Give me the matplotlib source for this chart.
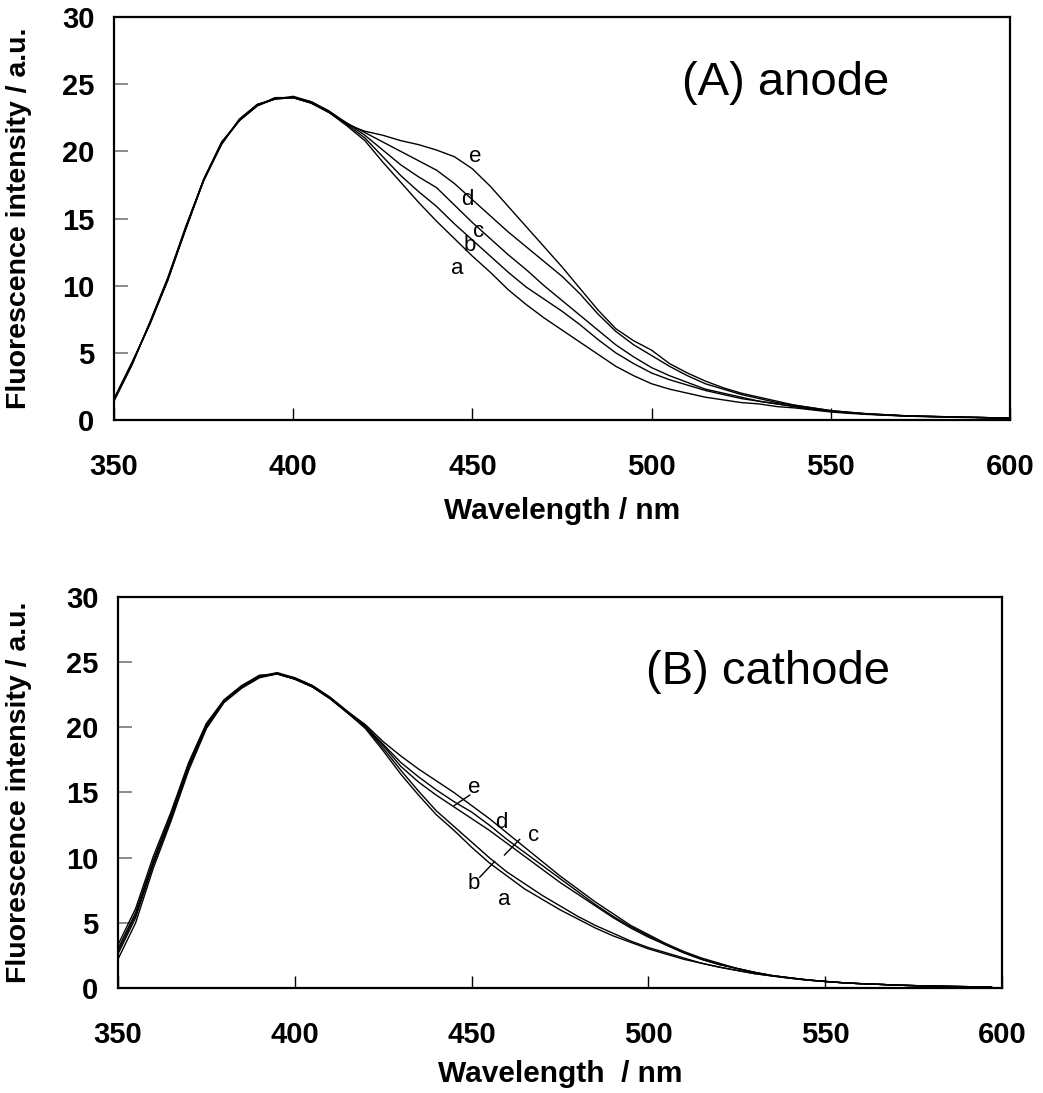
#!/usr/bin/env python3
import matplotlib
matplotlib.use("Agg")
import matplotlib.pyplot as plt
import numpy as np

# wavelength grid (nm) used for the read-off values
wl = [350, 355, 360, 365, 370, 375, 380, 385, 390, 395, 400, 405, 410, 415, 420,
      425, 430, 435, 440, 445, 450, 455, 460, 465, 470, 475, 480, 485, 490, 495,
      500, 505, 510, 515, 520, 525, 530, 535, 540, 545, 550, 555, 560, 565, 570,
      575, 580, 585, 590, 595, 600]

# (A) anode, curves a..e
anode_a = [1.5, 4.2, 7.2, 10.5, 14.3, 17.9, 20.6, 22.3, 23.4, 23.9, 24.0, 23.6, 22.9, 21.9, 20.8,
           19.2, 17.7, 16.2, 14.8, 13.5, 12.2, 11.0, 9.7, 8.6, 7.6, 6.7, 5.8, 4.9, 4.0, 3.3,
           2.7, 2.3, 2.0, 1.7, 1.5, 1.3, 1.2, 1.0, 0.9, 0.75, 0.6, 0.5, 0.42, 0.36, 0.3,
           0.26, 0.23, 0.2, 0.18, 0.15, 0.13]
anode_b = [1.6, 4.3, 7.1, 10.4, 14.2, 17.8, 20.5, 22.4, 23.5, 23.9, 24.1, 23.7, 23.0, 22.0, 21.0,
           19.6, 18.2, 17.0, 15.9, 14.6, 13.4, 12.2, 11.0, 9.9, 9.0, 8.1, 7.1, 6.0, 5.0, 4.2,
           3.5, 3.0, 2.6, 2.2, 1.9, 1.6, 1.4, 1.2, 1.0, 0.8, 0.65, 0.55, 0.45, 0.38, 0.32,
           0.28, 0.25, 0.22, 0.2, 0.17, 0.15]
anode_c = [1.4, 4.1, 7.3, 10.6, 14.4, 17.9, 20.7, 22.3, 23.4, 24.0, 24.0, 23.6, 22.9, 22.1, 21.2,
           20.1, 19.0, 18.1, 17.3, 16.0, 14.7, 13.5, 12.3, 11.2, 10.0, 8.9, 7.8, 6.7, 5.6, 4.7,
           3.9, 3.3, 2.8, 2.3, 2.0, 1.7, 1.4, 1.2, 1.0, 0.8, 0.65, 0.55, 0.45, 0.38, 0.32,
           0.28, 0.25, 0.22, 0.2, 0.17, 0.15]
anode_d = [1.5, 4.2, 7.2, 10.4, 14.3, 17.8, 20.6, 22.4, 23.5, 23.9, 24.0, 23.7, 23.0, 22.1, 21.4,
           20.7, 20.0, 19.3, 18.6, 17.6, 16.4, 15.2, 14.0, 12.9, 11.8, 10.7, 9.4, 7.9, 6.6, 5.6,
           4.8, 4.0, 3.3, 2.7, 2.3, 1.9, 1.6, 1.3, 1.1, 0.9, 0.7, 0.58, 0.47, 0.4, 0.33,
           0.29, 0.26, 0.23, 0.2, 0.17, 0.15]
anode_e = [1.5, 4.1, 7.2, 10.5, 14.2, 17.9, 20.6, 22.3, 23.4, 24.0, 24.0, 23.6, 22.9, 22.0, 21.5,
           21.2, 20.8, 20.5, 20.1, 19.6, 18.7, 17.4, 15.9, 14.4, 12.9, 11.4, 9.8, 8.2, 6.8, 5.9,
           5.2, 4.2, 3.5, 2.9, 2.4, 2.0, 1.7, 1.4, 1.1, 0.9, 0.7, 0.58, 0.47, 0.4, 0.33,
           0.29, 0.26, 0.23, 0.2, 0.17, 0.15]

# (B) cathode, curves a..e (end at ~597 nm)
wl_b = wl[:-1] + [597]
cathode_a = [2.2, 5.0, 9.2, 12.8, 16.7, 19.9, 21.9, 23.0, 23.8, 24.1, 23.7, 23.1, 22.2, 21.1, 19.9,
             18.2, 16.4, 14.8, 13.3, 12.1, 10.8, 9.6, 8.6, 7.6, 6.8, 6.0, 5.3, 4.6, 4.0, 3.5,
             3.0, 2.6, 2.2, 1.9, 1.6, 1.35, 1.1, 0.92, 0.75, 0.6, 0.5, 0.4, 0.33, 0.28, 0.22,
             0.18, 0.15, 0.12, 0.1, 0.08, 0.07]
cathode_b = [2.6, 5.4, 9.5, 13.0, 16.9, 20.0, 22.0, 23.1, 23.9, 24.1, 23.7, 23.1, 22.2, 21.1, 20.0,
             18.4, 16.7, 15.1, 13.6, 12.4, 11.2, 10.0, 8.9, 8.0, 7.1, 6.3, 5.5, 4.8, 4.2, 3.6,
             3.1, 2.7, 2.3, 1.9, 1.6, 1.35, 1.1, 0.92, 0.75, 0.6, 0.5, 0.4, 0.33, 0.28, 0.22,
             0.18, 0.15, 0.12, 0.1, 0.08, 0.07]
cathode_c = [3.0, 5.8, 9.8, 13.3, 17.2, 20.2, 22.1, 23.2, 23.9, 24.1, 23.7, 23.1, 22.2, 21.1, 20.0,
             18.6, 17.0, 15.8, 14.8, 13.9, 13.0, 12.1, 11.1, 10.1, 9.1, 8.1, 7.2, 6.3, 5.4, 4.6,
             3.9, 3.3, 2.7, 2.2, 1.8, 1.5, 1.2, 0.95, 0.78, 0.62, 0.5, 0.4, 0.33, 0.28, 0.22,
             0.18, 0.15, 0.12, 0.1, 0.08, 0.07]
cathode_d = [3.3, 6.1, 10.1, 13.5, 17.3, 20.3, 22.1, 23.2, 24.0, 24.1, 23.8, 23.2, 22.3, 21.2, 20.1,
             18.7, 17.3, 16.2, 15.2, 14.3, 13.5, 12.5, 11.4, 10.4, 9.4, 8.4, 7.4, 6.4, 5.5, 4.7,
             4.0, 3.3, 2.7, 2.2, 1.8, 1.5, 1.2, 0.95, 0.78, 0.62, 0.5, 0.4, 0.33, 0.28, 0.22,
             0.18, 0.15, 0.12, 0.1, 0.08, 0.07]
cathode_e = [2.8, 5.6, 9.6, 13.1, 17.0, 20.1, 22.0, 23.1, 23.9, 24.2, 23.8, 23.2, 22.3, 21.2, 20.2,
             18.9, 17.8, 16.8, 15.9, 15.0, 14.0, 13.0, 11.9, 10.8, 9.7, 8.6, 7.6, 6.6, 5.7, 4.8,
             4.1, 3.4, 2.8, 2.3, 1.9, 1.5, 1.2, 0.95, 0.78, 0.62, 0.5, 0.4, 0.33, 0.28, 0.22,
             0.18, 0.15, 0.12, 0.1, 0.08, 0.07]

# curve labels: letter, wavelength, intensity
labels_a = [("e", 450.8, 19.6), ("d", 448.6, 16.4), ("c", 451.7, 14.0), ("b", 449.2, 13.0), ("a", 445.8, 11.3)]
labels_b = [("e", 450.6, 15.4), ("d", 458.5, 12.7), ("c", 467.5, 11.7), ("b", 450.6, 8.0), ("a", 459.3, 6.75)]

xticks = [350, 400, 450, 500, 550, 600]
yticks = [0, 5, 10, 15, 20, 25, 30]

fig = plt.figure(figsize=(10.43, 10.93), dpi=100)
ax1 = fig.add_axes([0.1093, 0.6157, 0.8591, 0.3687])
ax2 = fig.add_axes([0.1131, 0.0961, 0.8476, 0.3577])

tick_font = dict(family="Liberation Sans", weight="bold", size=21)


def style_axis(ax, xlabel, ylab_x, xlab_y):
    ax.set_xlim(350, 600)
    ax.set_ylim(0, 30)
    ax.set_xticks(xticks)
    ax.set_yticks(yticks)
    ax.set_xticklabels([str(t) for t in xticks], **tick_font)
    ax.set_yticklabels([str(t) for t in yticks], **tick_font)
    ax.tick_params(axis="x", direction="in", length=9, width=1.0, pad=24)
    ax.tick_params(axis="y", direction="in", length=10, width=1.2, color="#777777", pad=14)
    for sp in ax.spines.values():
        sp.set_linewidth(1.6)
        sp.set_color("black")
    ax.set_xlabel(xlabel, family="Liberation Sans", weight="bold", size=21.5)
    ax.set_ylabel("Fluorescence intensity / a.u.", family="Liberation Sans",
                  weight="bold", size=20.5)
    # place the axis titles where the reference has them
    ax.yaxis.set_label_coords(ylab_x, 0.5)
    ax.xaxis.set_label_coords(0.5, xlab_y)


# Top panel: anode
for curve in [anode_a, anode_b, anode_c, anode_d, anode_e]:
    ax1.plot(wl, curve, color="black", lw=1.0)
for txt, x, y in labels_a:
    ax1.text(x, y, txt, family="Liberation Sans", size=16, ha="center", va="center")
ax1.text(0.749, 0.836, "(A) anode", transform=ax1.transAxes, family="Liberation Sans",
         size=34, ha="center", va="center")
style_axis(ax1, "Wavelength / nm", -0.091, -0.19)

# Bottom panel: cathode
for curve in [cathode_a, cathode_b, cathode_c, cathode_d, cathode_e]:
    ax2.plot(wl_b, curve, color="black", lw=1.0)
for txt, x, y in labels_b:
    ax2.text(x, y, txt, family="Liberation Sans", size=16, ha="center", va="center")
# small leader marks next to labels
ax2.plot([445.1, 449.5], [14.0, 14.8], color="black", lw=1.0)
ax2.plot([459.3, 463.6], [10.2, 11.4], color="black", lw=1.0)
ax2.plot([452.3, 456.5], [8.5, 9.7], color="black", lw=1.0)
ax2.text(0.735, 0.808, "(B) cathode", transform=ax2.transAxes, family="Liberation Sans",
         size=34, ha="center", va="center")
style_axis(ax2, "Wavelength  / nm", -0.097, -0.185)

fig.savefig("out.png", dpi=100)
